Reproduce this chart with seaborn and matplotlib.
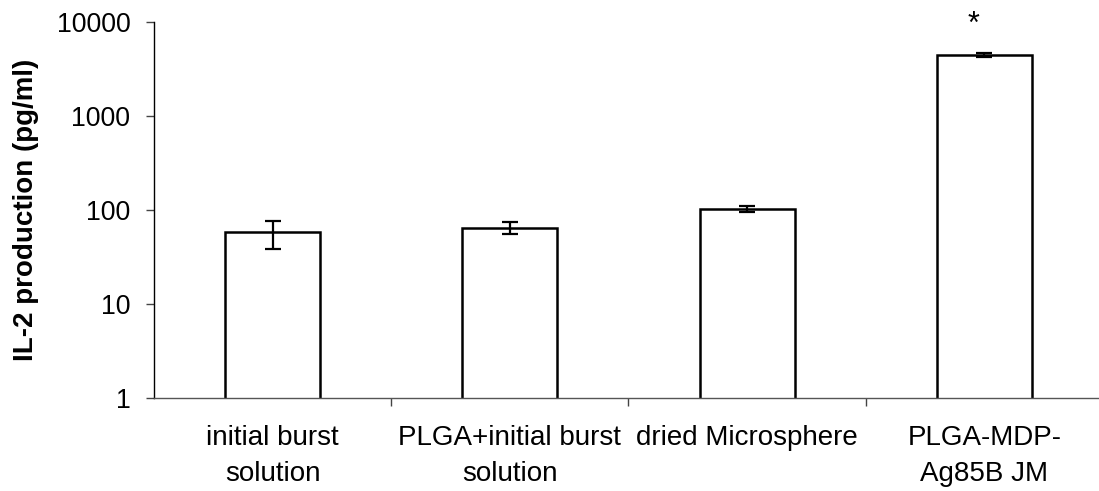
import matplotlib
matplotlib.use('Agg')
import matplotlib.pyplot as plt
from matplotlib.ticker import NullLocator, FixedLocator
import seaborn as sns
import pandas as pd
import numpy as np

categories = ["initial burst\nsolution", "PLGA+initial burst\nsolution",
              "dried Microsphere", "PLGA-MDP-\nAg85B JM"]
il2_mean = [58, 65, 103, 4450]
il2_err = [19, 9.5, 8, 250]
y_ticks = [1, 10, 100, 1000, 10000]
y_tick_labels = ["1", "10", "100", "1000", "10000"]
y_label = "IL-2 production (pg/ml)"
significance = ["", "", "", "*"]

sns.set_theme(style="ticks")
plt.rcParams['font.family'] = ['Liberation Sans', 'DejaVu Sans']

fig = plt.figure(figsize=(10.99, 4.91), dpi=100)
ax = fig.add_axes([0.1401, 0.1888, 0.8635, 0.7664])
ax.set_yscale('log')

df = pd.DataFrame({"group": categories, "il2": il2_mean})
sns.barplot(data=df, x="group", y="il2", order=categories, color="white",
            edgecolor="black", linewidth=1.8, width=0.4, ax=ax,
            errorbar=None, saturation=1)
xpos = np.arange(len(categories))
ax.errorbar(xpos, il2_mean, yerr=il2_err, fmt='none', ecolor='black',
            elinewidth=1.6, capsize=5.7, capthick=1.6, zorder=5)

ax.set_xlim(-0.5, len(categories) - 0.5)
ax.set_ylim(y_ticks[0], y_ticks[-1])
ax.yaxis.set_major_locator(FixedLocator(y_ticks))
ax.yaxis.set_minor_locator(NullLocator())
ax.set_yticklabels(y_tick_labels, fontsize=19.2)
ax.tick_params(axis='y', which='major', length=6, width=1, color='#444444',
               direction='out', pad=11, labelcolor='black')

ax.set_xticks(xpos)
ax.set_xticklabels(categories, fontsize=20, linespacing=1.5)
ax.tick_params(axis='x', which='major', length=0, pad=19.5, labelcolor='black')
ax.set_xticks([0.5, 1.5, 2.5], minor=True)
ax.tick_params(axis='x', which='minor', length=6, width=1, color='#444444',
               direction='out')

ax.set_xlabel("")
ax.set_ylabel(y_label, fontsize=20, fontweight='bold', color='black')
ax.yaxis.set_label_coords(-0.121, 0.5)

for side in ['top', 'right']:
    ax.spines[side].set_visible(False)
ax.spines['left'].set_color('black')
ax.spines['left'].set_linewidth(1.0)
ax.spines['bottom'].set_color('#555555')
ax.spines['bottom'].set_linewidth(1.0)

for x, s in zip(xpos, significance):
    if s:
        ax.text(x - 0.045, 7600, s, ha='center', va='baseline', fontsize=22,
                color='black')

fig.savefig("out.png", dpi=100)
